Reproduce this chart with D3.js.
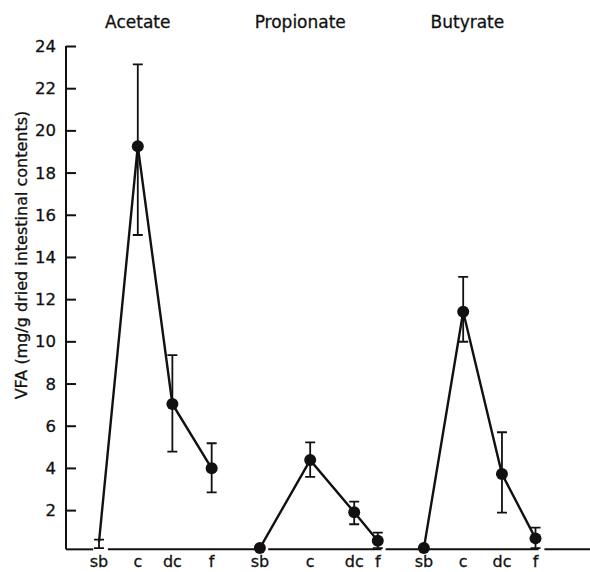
<!DOCTYPE html>
<html>
<head>
<meta charset="utf-8">
<script src="https://cdn.jsdelivr.net/npm/d3@7"></script>
<style>
  body { margin: 0; background: #fff; }
  svg { font-family: "DejaVu Sans", sans-serif; }
  svg text { stroke: #111; stroke-width: 0.3; }
</style>
</head>
<body>
<div id="chart"></div>
<script>
const FRAME_WIDTH = 590;
const FRAME_HEIGHT = 572;
const MARGINS = {left: 66, right: 0, top: 46, bottom: 23};

// data
const GROUPS = ["Acetate", "Propionate", "Butyrate"];
const SITES = ["sb", "c", "dc", "f"];
// position along x in arbitrary units (0-100 across the plot)
const X_POS = [
  [6.3, 13.7, 20.3, 27.8],
  [37.0, 46.6, 55.0, 59.5],
  [68.3, 75.8, 83.2, 89.6]
];
const MEANS = [
  [0.5, 19.25, 7.03, 3.98],
  [0.2, 4.37, 1.9, 0.55],
  [0.2, 11.4, 3.71, 0.66]
];
const UPPER = [
  [0.6, 23.13, 9.35, 5.17],
  [null, 5.21, 2.4, 0.93],
  [null, 13.06, 5.69, 1.17]
];
const LOWER = [
  [0.2, 15.04, 4.77, 2.84],
  [null, 3.58, 1.33, 0.2],
  [null, 9.98, 1.88, 0.2]
];
// acetate sb has no dot, only the bar
const SHOW_DOT = [
  [false, true, true, true],
  [true, true, true, true],
  [true, true, true, true]
];
const TITLE_POS = [13.7, 44.7, 76.6];
const Y_TICKS = [2, 4, 6, 8, 10, 12, 14, 16, 18, 20, 22, 24];
const Y_LABEL = "VFA (mg/g dried intestinal contents)";
// little breaks in the printed baseline (x units)
const BASE_GAPS = [[5.2, 8.0], [37.6, 38.6], [60.2, 61.0], [90.2, 91.3]];

const VIS_WIDTH = FRAME_WIDTH - MARGINS.left - MARGINS.right;
const VIS_HEIGHT = FRAME_HEIGHT - MARGINS.top - MARGINS.bottom;

const FRAME = d3.select("#chart")
  .append("svg")
    .attr("width", FRAME_WIDTH)
    .attr("height", FRAME_HEIGHT);

const X_SCALE = d3.scaleLinear().domain([0, 100]).range([MARGINS.left, MARGINS.left + VIS_WIDTH]);
const Y_SCALE = d3.scaleLinear().domain([0, 24]).range([552.3, MARGINS.top]);

const BASE_Y = Y_SCALE(0.14);

// y axis line + ticks pointing right
FRAME.append("line")
  .attr("x1", X_SCALE(0)).attr("x2", X_SCALE(0))
  .attr("y1", Y_SCALE(24)).attr("y2", BASE_Y)
  .attr("stroke", "#111").attr("stroke-width", 2);

const yAxis = FRAME.append("g")
  .attr("transform", "translate(" + X_SCALE(0) + ",0)")
  .call(d3.axisRight(Y_SCALE).tickValues(Y_TICKS).tickSize(10).tickFormat(""));
yAxis.select(".domain").remove();
yAxis.selectAll("line").attr("stroke", "#111").attr("stroke-width", 2);

FRAME.selectAll(".ylab")
  .data(Y_TICKS)
  .enter()
  .append("text")
    .attr("x", X_SCALE(0) - 10)
    .attr("y", d => Y_SCALE(d) + 6)
    .attr("text-anchor", "end")
    .attr("font-size", 16.5)
    .attr("fill", "#111")
    .text(d => d);

FRAME.append("text")
  .attr("transform", "translate(27,255) rotate(-90)")
  .attr("text-anchor", "middle")
  .attr("font-size", 16)
  .attr("fill", "#111")
  .text(Y_LABEL);

// baseline with breaks
let segs = [];
let start = 0;
BASE_GAPS.forEach(g => { segs.push([start, g[0]]); start = g[1]; });
segs.push([start, 100]);
FRAME.selectAll(".base")
  .data(segs)
  .enter()
  .append("line")
    .attr("x1", d => X_SCALE(d[0]))
    .attr("x2", d => X_SCALE(d[1]))
    .attr("y1", BASE_Y).attr("y2", BASE_Y)
    .attr("stroke", "#111").attr("stroke-width", 2);

// group titles
FRAME.selectAll(".title")
  .data(GROUPS)
  .enter()
  .append("text")
    .attr("x", (d, i) => X_SCALE(TITLE_POS[i]))
    .attr("y", 28)
    .attr("text-anchor", "middle")
    .attr("font-size", 17)
    .attr("fill", "#111")
    .text(d => d);

GROUPS.forEach((g, i) => {
  const pts = SITES.map((s, j) => ({
    site: s, x: X_POS[i][j], y: MEANS[i][j],
    hi: UPPER[i][j], lo: LOWER[i][j], dot: SHOW_DOT[i][j]
  }));

  const line = d3.line().x(d => X_SCALE(d.x)).y(d => Y_SCALE(d.y));
  FRAME.append("path")
    .datum(pts)
    .attr("d", line)
    .attr("fill", "none")
    .attr("stroke", "#111")
    .attr("stroke-width", 2.4);

  const bars = pts.filter(d => d.hi != null);
  FRAME.selectAll(".err" + i)
    .data(bars)
    .enter()
    .append("path")
      .attr("d", d => {
        const x = X_SCALE(d.x), y1 = Y_SCALE(d.hi), y0 = Y_SCALE(d.lo);
        return "M" + (x - 5) + "," + y1 + "H" + (x + 5) +
               "M" + x + "," + y1 + "V" + y0 +
               "M" + (x - 5) + "," + y0 + "H" + (x + 5);
      })
      .attr("fill", "none")
      .attr("stroke", "#111")
      .attr("stroke-width", 1.8);

  FRAME.selectAll(".dot" + i)
    .data(pts.filter(d => d.dot))
    .enter()
    .append("circle")
      .attr("cx", d => X_SCALE(d.x))
      .attr("cy", d => Y_SCALE(d.y))
      .attr("r", 6)
      .attr("fill", "#111");

  FRAME.selectAll(".site" + i)
    .data(pts)
    .enter()
    .append("text")
      .attr("x", d => X_SCALE(d.x))
      .attr("y", 567)
      .attr("text-anchor", "middle")
      .attr("font-size", 16)
      .attr("fill", "#111")
      .text(d => d.site);
});
</script>
</body>
</html>
